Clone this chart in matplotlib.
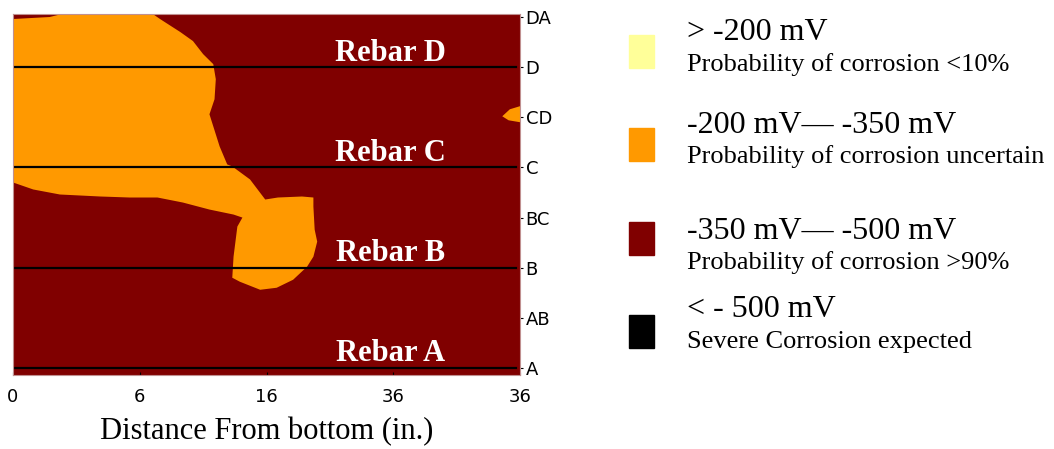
import matplotlib.pyplot as plt
from matplotlib.patches import Rectangle

# half-cell potential map of the slab, grid units along x (columns) and y (rebar rows)
x_labels = ['0', '6', '16', '36', '36']
y_labels = ['A', 'AB', 'B', 'BC', 'C', 'CD', 'D', 'DA']
rebar_rows = [0, 2, 4, 6]
rebar_names = ['Rebar A', 'Rebar B', 'Rebar C', 'Rebar D']

# outline of the -200 / -350 mV zone (orange)
zone_x = [0.00, 0.29, 0.45, 1.08, 1.16, 1.32, 1.42, 1.50, 1.58, 1.60, 1.59, 1.55,
          1.58, 1.63, 1.69, 1.73, 1.87, 1.99, 2.09, 2.28, 2.37, 2.37, 2.38, 2.40,
          2.37, 2.32, 2.21, 2.08, 1.95, 1.79, 1.73, 1.74, 1.77, 1.81, 1.74, 1.55,
          1.34, 1.14, 0.92, 0.69, 0.37, 0.16, 0.00]
zone_y = [6.96, 7.00, 7.10, 7.10, 6.96, 6.70, 6.52, 6.26, 6.06, 5.76, 5.36, 5.06,
          4.82, 4.42, 4.06, 4.02, 3.76, 3.36, 3.40, 3.42, 3.40, 3.22, 2.76, 2.52,
          2.22, 2.02, 1.76, 1.60, 1.56, 1.72, 1.80, 2.22, 2.82, 3.00, 3.06, 3.16,
          3.30, 3.40, 3.40, 3.42, 3.46, 3.56, 3.70]

# small patch at the right edge near CD
patch_x = [4.05, 3.92, 3.86, 3.91, 4.05]
patch_y = [5.26, 5.16, 5.02, 4.94, 4.88]

legend_colors = ['#FFFF99', '#FF9900', '#800000', '#000000']
legend_heads = ['> -200 mV', '-200 mV\u2014 -350 mV', '-350 mV\u2014 -500 mV', '< - 500 mV']
legend_notes = ['Probability of corrosion <10%', 'Probability of corrosion uncertain',
                'Probability of corrosion >90%', 'Severe Corrosion expected']

W, H = 1054, 449
fig = plt.figure(figsize=(W / 100, H / 100), dpi=100)
ax = fig.add_axes([13 / W, 1 - 375 / H, 507 / W, 361 / H])
ax.set_facecolor('#800000')

ax.fill(zone_x, zone_y, color='#FF9900', lw=0)
ax.fill(patch_x, patch_y, color='#FF9900', lw=0)

for row, name in zip(rebar_rows, rebar_names):
    ax.axhline(row, xmin=0.004, xmax=0.993, color='black', lw=1.6)
    ax.text(2.98, row + 0.13, name, color='white', fontsize=22, fontweight='bold',
            family='Liberation Serif', ha='center', va='baseline')

ax.set_xlim(0, 4)
ax.set_ylim(-0.14, 7.06)

ax.set_xticks(range(len(x_labels)))
ax.set_xticklabels(x_labels, fontsize=13, family='DejaVu Sans')
ax.tick_params(axis='x', direction='in', length=2, pad=9, color='black')

ax.yaxis.tick_right()
ax.set_yticks(range(len(y_labels)))
ax.set_yticklabels(y_labels, fontsize=13, family='DejaVu Sans')
ax.tick_params(axis='y', direction='out', length=2.5, pad=1.5)

for s in ax.spines.values():
    s.set_color('#c09090')
    s.set_linewidth(0.8)

ax.set_xlabel('Distance From bottom (in.)', fontsize=22, family='Liberation Serif',
              labelpad=8)

# legend drawn by hand on the right
sq_tops = [35, 128, 222, 315]
head_base = [40, 133, 239, 317]
note_base = [71, 163, 269, 348]
for i in range(4):
    fig.patches.append(Rectangle((629 / W, 1 - (sq_tops[i] + 33) / H), 25 / W, 33 / H,
                                 transform=fig.transFigure, color=legend_colors[i]))
    fig.text(687 / W, 1 - head_base[i] / H, legend_heads[i], fontsize=23,
             family='Liberation Serif', va='baseline')
    fig.text(687 / W, 1 - note_base[i] / H, legend_notes[i], fontsize=19,
             family='Liberation Serif', va='baseline')

fig.savefig('out.png', dpi=100)
